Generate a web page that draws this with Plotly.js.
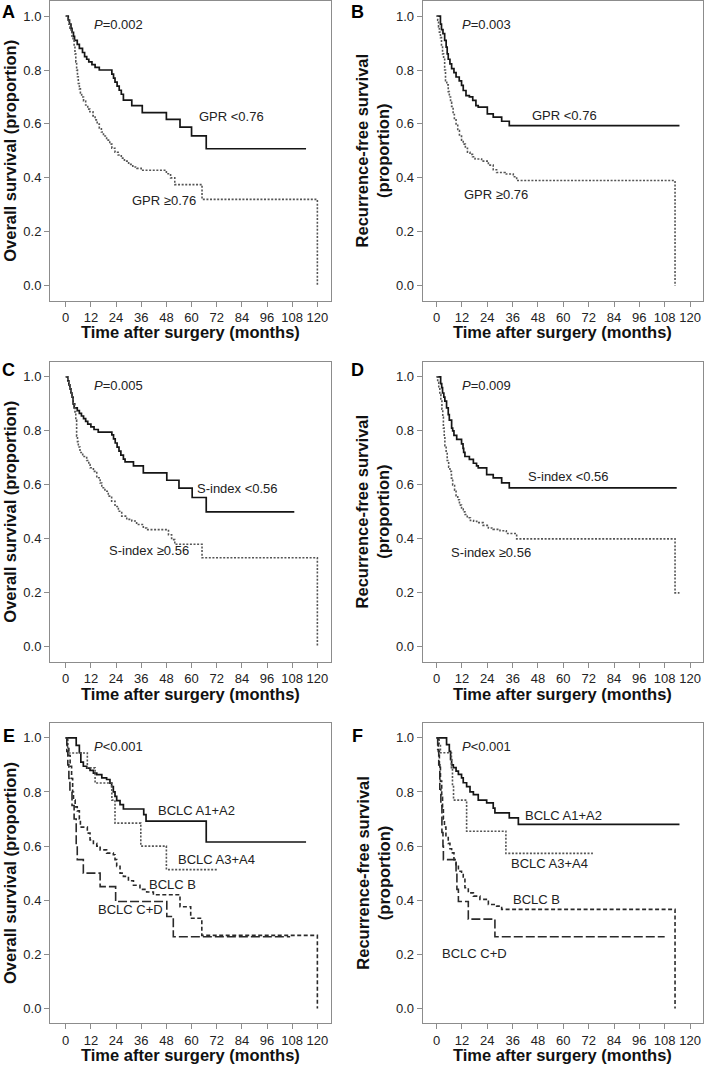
<!DOCTYPE html>
<html>
<head>
<meta charset="utf-8">
<script src="https://cdn.plot.ly/plotly-3.0.1.min.js"></script>
<style>html,body{margin:0;padding:0;background:#fff;}#chart{width:705px;height:1065px;}</style>
</head>
<body>
<div id="chart"></div>
<script>
// ---------- data (months, survival proportion) ----------
const xTickVals = [0,12,24,36,48,60,72,84,96,108,120];
const yTickVals = [0,0.2,0.4,0.6,0.8,1.0];

// Panel A: overall survival by GPR
const aLowT = [0,1.2,1.8,2.5,3,3.7,4.2,5.5,6.5,8,9,10,11,12.5,14,16,22,22.8,23.5,24.5,25.5,26.5,27.5,31.5,36.5,48,54.5,60,67,114.6];
const aLowS = [1,0.985,0.97,0.955,0.94,0.925,0.91,0.895,0.88,0.865,0.85,0.84,0.83,0.82,0.81,0.80,0.785,0.77,0.755,0.74,0.725,0.71,0.688,0.668,0.642,0.617,0.588,0.556,0.508,0.508];
const aHighT = [0,1,1.5,2,2.5,3,3.5,4,4.4,4.8,5.2,5.6,6,6.5,7,7.6,8.5,9.5,10.5,11.5,13,14,15,16,17,18,19.5,21,22,23.5,25,26.5,28,30,32,34,36,48,50,52,65,120];
const aHighS = [1,0.985,0.97,0.955,0.94,0.925,0.91,0.89,0.86,0.83,0.80,0.775,0.75,0.73,0.715,0.70,0.685,0.67,0.655,0.645,0.63,0.615,0.60,0.585,0.57,0.555,0.54,0.525,0.51,0.495,0.485,0.473,0.462,0.45,0.44,0.435,0.428,0.415,0.40,0.375,0.32,0];

// Panel B: recurrence-free survival by GPR
const bLowT = [0,1.8,2.3,3,3.8,4.5,5,5.5,6.3,7.1,8.2,9.2,10.7,11.8,12.6,13.9,15.5,17.1,18.6,19.7,24,26.8,30.8,34.4,115];
const bLowS = [1,0.97,0.95,0.935,0.91,0.885,0.86,0.84,0.823,0.805,0.79,0.774,0.76,0.743,0.724,0.705,0.70,0.687,0.668,0.662,0.637,0.625,0.61,0.594,0.594];
const bHighT = [0,0.5,0.9,1.3,1.8,2.3,2.8,3.3,3.8,4.2,4.8,5.5,6,6.6,7.1,7.8,8.4,9.2,10,10.8,11.8,12.6,13.6,14.6,15.8,17,18.2,21.3,24.5,26.8,28.4,32.4,36.3,37.9,112.9];
const bHighS = [1,0.985,0.96,0.94,0.92,0.89,0.86,0.84,0.80,0.76,0.745,0.72,0.70,0.68,0.665,0.635,0.615,0.60,0.575,0.555,0.54,0.525,0.51,0.495,0.487,0.478,0.47,0.462,0.447,0.43,0.42,0.414,0.404,0.39,0];

// Panel C: overall survival by S-index
const cLowT = [0,1,1.5,2,2.5,3,3.5,4,5.5,6.5,7.5,8.5,9.5,10.5,12,13.5,15.5,22,22.8,23.6,24.5,25.4,26.3,27.5,28.3,32.3,37,48.2,54,60.3,67,109];
const cLowS = [1,0.985,0.97,0.955,0.94,0.925,0.90,0.885,0.875,0.865,0.855,0.845,0.835,0.825,0.815,0.805,0.795,0.785,0.77,0.755,0.74,0.725,0.71,0.695,0.685,0.67,0.644,0.617,0.588,0.553,0.50,0.50];
const cHighT = [0,1,1.5,2,2.5,3,3.5,4.4,4.8,5.2,5.6,6,6.8,8.1,10,11,11.6,13.2,14.8,16.4,17.2,18.7,20.3,21.9,23.5,25.1,26.7,29.1,31.5,33.8,37,38.6,49,50.5,52,65,120];
const cHighS = [1,0.985,0.97,0.955,0.94,0.925,0.90,0.87,0.84,0.78,0.76,0.74,0.72,0.705,0.69,0.675,0.663,0.65,0.626,0.607,0.589,0.576,0.558,0.539,0.52,0.502,0.484,0.472,0.466,0.453,0.44,0.434,0.415,0.397,0.38,0.33,0];

// Panel D: recurrence-free survival by S-index
const dLowT = [0,1.9,2.4,2.8,3.4,3.9,4.7,5.5,6,7.1,7.6,8.2,9.5,11.8,12.5,12.8,13.4,15.5,17.4,18.9,19.7,23.7,26.8,30.8,34.4,113.7];
const dLowS = [1,0.975,0.96,0.94,0.925,0.91,0.885,0.86,0.84,0.81,0.80,0.783,0.768,0.752,0.735,0.72,0.705,0.694,0.68,0.67,0.663,0.638,0.626,0.607,0.589,0.589];
const dHighT = [0,0.5,1,1.5,2,2.5,2.9,3.2,3.6,3.9,4.5,5,5.7,6.3,7,7.6,8.5,9.2,10,10.8,11.8,12.6,13.4,14.5,16,17.5,19,22,24.5,26.8,30,33,37.9,112.9,115];
const dHighS = [1,0.98,0.96,0.935,0.91,0.88,0.85,0.81,0.78,0.745,0.72,0.69,0.665,0.65,0.625,0.60,0.58,0.56,0.545,0.525,0.51,0.50,0.49,0.478,0.468,0.465,0.46,0.45,0.44,0.435,0.43,0.42,0.40,0.20,0.20];

// Panel E: overall survival by BCLC stage
const eA12T = [0,5,6.5,7.2,8.4,10,11.6,13.2,14.8,17.2,19.5,21.1,21.9,22.7,23.5,24.3,25.9,27.5,37.2,38.3,67,114.6];
const eA12S = [1,0.972,0.945,0.91,0.895,0.888,0.88,0.87,0.864,0.852,0.846,0.833,0.82,0.80,0.784,0.768,0.753,0.737,0.716,0.692,0.615,0.615];
const eA34T = [0,1,10.3,14,22,23.5,35.8,48,72.8];
const eA34S = [1,0.944,0.889,0.833,0.77,0.685,0.60,0.513,0.513];
const eBT = [0,0.8,1.5,2.1,2.8,3.3,3.7,4.5,5.5,6.5,7,10.3,11.6,13.2,14.8,16.4,19.5,22.7,23.5,24.3,25.9,27.5,29.9,32.3,35.4,38.6,41.8,54.5,59.6,64.9,120];
const eBS = [1,0.97,0.935,0.895,0.85,0.80,0.77,0.745,0.73,0.70,0.67,0.648,0.623,0.61,0.60,0.586,0.574,0.568,0.55,0.525,0.50,0.488,0.472,0.455,0.44,0.43,0.42,0.376,0.333,0.27,0];
const eCDT = [0,0.5,1,1.5,2,3,4,5,5.5,8.4,16.4,23.8,48.2,51.3,107];
const eCDS = [1,0.95,0.90,0.85,0.80,0.75,0.70,0.60,0.55,0.50,0.45,0.395,0.34,0.265,0.265];

// Panel F: recurrence-free survival by BCLC stage
const fA12T = [0,4.7,6,6.6,7.1,7.9,9.2,10.3,11.8,12.6,14.2,15.8,17.4,19.7,23.7,26.8,27.6,34.4,38.7,115];
const fA12S = [1,0.975,0.95,0.92,0.90,0.89,0.877,0.865,0.852,0.834,0.82,0.80,0.79,0.77,0.76,0.74,0.723,0.704,0.68,0.68];
const fA34T = [0,1.2,1.8,7,7.5,8,14.2,32.8,74];
const fA34S = [1,0.975,0.945,0.89,0.82,0.77,0.655,0.573,0.573];
const fBT = [0,0.8,1.3,1.8,2.4,2.8,3.2,3.7,4.4,5.5,6.3,7.1,8.2,9.2,10.3,11.8,12.6,13.4,15,17.4,20.5,24.5,28.4,30.8,112.9];
const fBS = [1,0.95,0.90,0.84,0.78,0.74,0.70,0.67,0.635,0.61,0.59,0.575,0.55,0.525,0.507,0.495,0.477,0.446,0.427,0.415,0.403,0.384,0.378,0.366,0];
const fCDT = [0,0.5,1,1.5,2,2.5,3,3.2,9.2,9.6,10.3,15,27.6,108];
const fCDS = [1,0.957,0.90,0.81,0.75,0.65,0.60,0.55,0.50,0.44,0.395,0.33,0.265,0.265];

// ---------- styling ----------
const FONT = 'Arial, "Liberation Sans", Helvetica, sans-serif';
const STY = {
  solid: {color:'#151515', width:1.7, dash:'solid'},
  dot:   {color:'#555555', width:1.6, dash:'2px,1.6px'},
  dash:  {color:'#2a2a2a', width:1.6, dash:'4px,2.5px'},
  longdash: {color:'#2a2a2a', width:1.6, dash:'9px,3px'}
};

const W = 705, H = 1065;
const colX = [[50, 331], [422.7, 702.7]];
const rowY = [[1, 300.5], [361.7, 661.7], [722.7, 1023.3]];
const xRanges = [[-7.5, 126.5], [-6.6, 126.0]];
const yRange = [-0.055, 1.056];
const letterX = [8.5, 358];
const letterY = [12, 370, 736];

const panels = [
  {letter:'A', col:0, row:0, ytitle:'Overall survival (proportion)',
   curves:[[aLowT,aLowS,'solid'],[aHighT,aHighS,'dot']],
   labels:[['<i>P</i>=0.002',12.5,0.969],['GPR <0.76',62.7,0.628],['GPR ≥0.76',30.6,0.317]]},
  {letter:'B', col:1, row:0, ytitle:'Recurrence-free survival<br>(proportion)',
   curves:[[bLowT,bLowS,'solid'],[bHighT,bHighS,'dot']],
   labels:[['<i>P</i>=0.003',11.0,0.968],['GPR <0.76',44.2,0.632],['GPR ≥0.76',11.8,0.340]]},
  {letter:'C', col:0, row:1, ytitle:'Overall survival (proportion)',
   curves:[[cLowT,cLowS,'solid'],[cHighT,cHighS,'dot']],
   labels:[['<i>P</i>=0.005',12.4,0.968],['S-index <0.56',61.7,0.588],['S-index ≥0.56',19.6,0.356]]},
  {letter:'D', col:1, row:1, ytitle:'Recurrence-free survival<br>(proportion)',
   curves:[[dLowT,dLowS,'solid'],[dHighT,dHighS,'dot']],
   labels:[['<i>P</i>=0.009',11.0,0.968],['S-index <0.56',42.3,0.632],['S-index ≥0.56',6.0,0.348]]},
  {letter:'E', col:0, row:2, ytitle:'Overall survival (proportion)',
   curves:[[eA12T,eA12S,'solid'],[eA34T,eA34S,'dot'],[eBT,eBS,'dash'],[eCDT,eCDS,'longdash']],
   labels:[['<i>P</i><0.001',12.4,0.969],['BCLC A1+A2',43.1,0.732],['BCLC A3+A4',52.5,0.549],['BCLC B',38.9,0.458],['BCLC C+D',14.3,0.366]]},
  {letter:'F', col:1, row:2, ytitle:'Recurrence-free survival<br>(proportion)',
   curves:[[fA12T,fA12S,'solid'],[fA34T,fA34S,'dot'],[fBT,fBS,'dash'],[fCDT,fCDS,'longdash']],
   labels:[['<i>P</i><0.001',11.0,0.969],['BCLC A1+A2',41.0,0.713],['BCLC A3+A4',34.4,0.536],['BCLC B',35.2,0.402],['BCLC C+D',1.6,0.204]]}
];

const data = [];
const layout = {
  width: W, height: H,
  margin: {l:0, r:0, t:0, b:0},
  paper_bgcolor:'#fff', plot_bgcolor:'#fff',
  showlegend:false,
  font:{family:FONT, color:'#222'},
  annotations: []
};

panels.forEach((p, i) => {
  const n = i + 1;
  const xk = n === 1 ? 'xaxis' : 'xaxis' + n;
  const yk = n === 1 ? 'yaxis' : 'yaxis' + n;
  const xr = n === 1 ? 'x' : 'x' + n;
  const yr = n === 1 ? 'y' : 'y' + n;
  const [l, r] = colX[p.col];
  const [t, b] = rowY[p.row];
  const common = {
    showline:true, mirror:true, linecolor:'#8c8c8c', linewidth:1,
    ticks:'outside', ticklen:5, tickwidth:1, tickcolor:'#8c8c8c',
    showgrid:false, zeroline:false, fixedrange:true,
    tickfont:{family:FONT, size:13, color:'#222'}
  };
  layout[xk] = Object.assign({}, common, {
    domain:[l / W, r / W], range:xRanges[p.col], anchor:yr,
    tickmode:'array', tickvals:xTickVals, ticktext:xTickVals.map(String)
  });
  layout[yk] = Object.assign({}, common, {
    domain:[1 - b / H, 1 - t / H], range:yRange, anchor:xr,
    tickmode:'array', tickvals:yTickVals, ticktext:yTickVals.map(v => v.toFixed(1))
  });
  p.curves.forEach(([tt, ss, st]) => {
    data.push({type:'scatter', mode:'lines', x:tt, y:ss, xaxis:xr, yaxis:yr,
      line:Object.assign({shape:'hv'}, STY[st]), hoverinfo:'skip'});
  });
  p.labels.forEach(([txt, x, y]) => {
    layout.annotations.push({text:txt, x:x, y:y, xref:xr, yref:yr,
      xanchor:'left', yanchor:'middle', showarrow:false,
      font:{family:FONT, size:13, color:'#222'}});
  });
  // panel letter
  layout.annotations.push({text:'<b>' + p.letter + '</b>', xref:'paper', yref:'paper',
    x:letterX[p.col] / W, y:1 - letterY[p.row] / H, xanchor:'center', yanchor:'middle', showarrow:false,
    font:{family:FONT, size:18, color:'#000'}});
  // x title
  layout.annotations.push({text:'<b>Time after surgery (months)</b>', xref:'paper', yref:'paper',
    x:(l + r) / 2 / W, y:1 - (b + 32) / H, xanchor:'center', yanchor:'middle', showarrow:false,
    font:{family:FONT, size:16.5, color:'#111'}});
  // y title
  const twoLine = p.ytitle.indexOf('<br>') >= 0;
  layout.annotations.push({text:'<b>' + p.ytitle + '</b>', xref:'paper', yref:'paper',
    x:(twoLine ? l - 50 : l - 40) / W, y:1 - ((t + b) / 2) / H, xanchor:'center', yanchor:'middle',
    textangle:-90, showarrow:false, font:{family:FONT, size:16.5, color:'#111'}});
});

Plotly.newPlot('chart', data, layout, {staticPlot:true, displayModeBar:false});
</script>
</body>
</html>
